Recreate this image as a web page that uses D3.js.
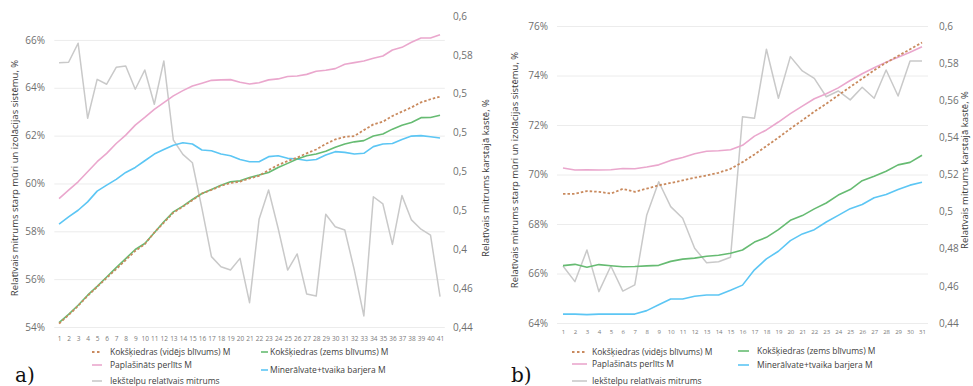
<!DOCTYPE html>
<html>
<head>
<meta charset="utf-8">
<script src="https://cdn.jsdelivr.net/npm/d3@7"></script>
<style>
  body { margin: 0; background: #fff; }
  svg { display: block; font-family: "Open Sans", "DejaVu Sans", sans-serif; }
</style>
</head>
<body>
<svg id="chart" width="973" height="386"></svg>
<script>
// ---- Panel a) : 41 days ----
const daysA = d3.range(1, 42);
const aVidejs = [54.14,54.50,54.88,55.30,55.68,56.05,56.42,56.80,57.18,57.46,57.95,58.36,58.78,59.03,59.30,59.58,59.73,59.90,60.02,60.08,
  60.21,60.32,60.56,60.77,60.94,61.08,61.26,61.42,61.65,61.84,61.95,61.98,62.23,62.47,62.58,62.82,63.00,63.18,63.39,63.52,63.63];
const aZems = [54.18,54.53,54.91,55.33,55.70,56.09,56.48,56.86,57.24,57.49,57.94,58.40,58.81,59.05,59.33,59.58,59.75,59.93,60.07,60.11,
  60.25,60.35,60.46,60.67,60.84,61.02,61.16,61.23,61.35,61.51,61.65,61.74,61.79,61.98,62.07,62.27,62.43,62.55,62.75,62.76,62.85];
const aPerlits = [59.37,59.72,60.07,60.49,60.91,61.26,61.67,62.02,62.44,62.76,63.10,63.38,63.66,63.88,64.07,64.19,64.31,64.33,64.34,64.23,
  64.16,64.21,64.33,64.37,64.47,64.49,64.56,64.69,64.73,64.80,64.98,65.05,65.12,65.23,65.33,65.58,65.69,65.90,66.08,66.08,66.22];
const aMinerals = [58.30,58.60,58.88,59.23,59.68,59.93,60.17,60.46,60.67,60.95,61.23,61.42,61.60,61.70,61.65,61.40,61.37,61.23,61.16,61.00,
  60.91,60.91,61.12,61.16,61.05,61.02,60.96,61.00,61.19,61.33,61.30,61.23,61.26,61.54,61.65,61.67,61.84,61.98,62.00,61.95,61.90];
const aIekstelpu = [0.5760,0.5762,0.5860,0.5474,0.5674,0.5649,0.5736,0.5743,0.5623,0.5722,0.5546,0.5769,0.5362,0.5288,0.5245,0.5010,0.4762,0.4710,0.4693,0.4753,
  0.4525,0.4954,0.5105,0.4908,0.4693,0.4776,0.4570,0.4559,0.4980,0.4916,0.4899,0.4693,0.4457,0.5070,0.5033,0.4825,0.5076,0.4951,0.4903,0.4873,0.4556];
const aLeftTicks = [54, 56, 58, 60, 62, 64, 66];
const aRightTicks = [0.44, 0.46, 0.48, 0.50, 0.52, 0.54, 0.56, 0.58, 0.60];
const aRightTickLabels = ["0,44", "0,46", "0,4", "0,5", "0,5", "0,5", "0,5", "0,58", "0,6"];

// ---- Panel b) : 31 days ----
const daysB = d3.range(1, 32);
const bVidejs = [69.22,69.22,69.33,69.30,69.23,69.42,69.30,69.43,69.56,69.66,69.76,69.87,69.96,70.07,70.23,70.50,
  70.81,71.15,71.49,71.85,72.19,72.54,72.86,73.20,73.54,73.87,74.21,74.52,74.79,75.06,75.33];
const bZems = [66.32,66.37,66.25,66.36,66.31,66.27,66.28,66.31,66.33,66.49,66.58,66.62,66.70,66.74,66.82,66.95,
  67.27,67.46,67.77,68.15,68.34,68.61,68.85,69.17,69.39,69.75,69.93,70.13,70.39,70.49,70.78];
const bPerlits = [70.26,70.18,70.19,70.18,70.19,70.24,70.23,70.30,70.39,70.57,70.69,70.84,70.94,70.96,71.00,71.18,
  71.55,71.80,72.12,72.46,72.76,73.06,73.26,73.50,73.80,74.07,74.31,74.54,74.74,74.94,75.16];
const bMinerals = [64.36,64.36,64.34,64.36,64.36,64.36,64.36,64.50,64.74,64.97,64.97,65.08,65.13,65.13,65.32,65.53,
  66.15,66.59,66.90,67.33,67.60,67.77,68.08,68.35,68.62,68.79,69.06,69.19,69.39,69.57,69.69];
const bIekstelpu = [0.4707,0.4623,0.4793,0.4569,0.4707,0.4572,0.4605,0.4982,0.5161,0.5027,0.4964,0.4803,0.4725,0.4730,0.4754,0.5511,
  0.5503,0.5875,0.5611,0.5835,0.5758,0.5718,0.5619,0.5650,0.5602,0.5670,0.5611,0.5763,0.5623,0.5812,0.5812];
const bLeftTicks = [64, 66, 68, 70, 72, 74, 76];
const bRightTicks = [0.44, 0.46, 0.48, 0.50, 0.52, 0.54, 0.56, 0.58, 0.60];
const bRightTickLabels = ["0,44", "0,46", "0,48", "0,5", "0,52", "0,54", "0,56", "0,58", "0,6"];

const seriesNames = {
  videjs: "Kokšķiedras (vidējs blīvums) M",
  zems: "Kokšķiedras (zems blīvums) M",
  perlits: "Paplašināts perlīts M",
  minerals: "Minerālvate+tvaika barjera M",
  iekstelpu: "Iekštelpu relatīvais mitrums"
};
const leftTitle = "Relatīvais mitrums starp mūri un izolācijas sistēmu, %";
const rightTitle = "Relatīvais mitrums karstajā kastē, %";

const colors = {
  videjs: "#c98a5e",
  zems: "#66bb72",
  perlits: "#eaa7cd",
  minerals: "#5cc6f4",
  iekstelpu: "#c9c9c9"
};

const svg = d3.select("#chart");

function drawPanel(cfg) {
  const g = svg.append("g");
  const x = d3.scalePoint().domain(cfg.days).range([cfg.x0, cfg.x1]).padding(0.5);
  const yL = d3.scaleLinear().domain(cfg.leftDomain).range([cfg.yBottom, cfg.yTop]);
  const yR = d3.scaleLinear().domain([0.44, 0.60]).range([cfg.yBottom, cfg.yTop]);

  // horizontal gridlines on the primary axis ticks
  g.append("g")
    .attr("transform", `translate(${cfg.x0},0)`)
    .call(d3.axisLeft(yL).tickValues(cfg.leftTicks).tickSize(-(cfg.x1 - cfg.x0)).tickFormat(""))
    .call(s => s.select(".domain").remove())
    .call(s => s.selectAll("line").attr("stroke", "#ececec").attr("stroke-width", 1));

  // primary y axis labels
  g.append("g")
    .attr("transform", `translate(${cfg.leftLabelX},0)`)
    .call(d3.axisLeft(yL).tickValues(cfg.leftTicks).tickSize(0).tickPadding(0).tickFormat(d => d + "%"))
    .call(s => s.select(".domain").remove())
    .call(s => s.selectAll("text").attr("fill", "#6f6f6f").style("font-size", "10px")
      .style("font-family", "Open Sans, DejaVu Sans, sans-serif"));

  // secondary y axis labels
  g.append("g")
    .attr("transform", `translate(${cfg.rightLabelX},0)`)
    .call(d3.axisRight(yR).tickValues(cfg.rightTicks).tickSize(0).tickPadding(0)
      .tickFormat((d, i) => cfg.rightTickLabels[i]))
    .call(s => s.select(".domain").remove())
    .call(s => s.selectAll("text").attr("fill", "#6f6f6f").style("font-size", "10px")
      .style("font-family", "Open Sans, DejaVu Sans, sans-serif"));

  // category axis
  g.append("g")
    .attr("transform", `translate(0,${cfg.xLabelY})`)
    .call(d3.axisBottom(x).tickSize(0).tickPadding(0))
    .call(s => s.select(".domain").remove())
    .call(s => s.selectAll("text").attr("fill", "#7a7a7a").style("font-size", cfg.xFont)
      .style("font-family", "Open Sans, DejaVu Sans, sans-serif"));

  const lineL = d3.line().x((d, i) => x(cfg.days[i])).y(d => yL(d));
  const lineR = d3.line().x((d, i) => x(cfg.days[i])).y(d => yR(d));

  const plot = g.append("g").attr("fill", "none").attr("stroke-linejoin", "round");
  plot.append("path").datum(cfg.iekstelpu).attr("d", lineR)
    .attr("stroke", colors.iekstelpu).attr("stroke-width", 1.5);
  plot.append("path").datum(cfg.minerals).attr("d", lineL)
    .attr("stroke", colors.minerals).attr("stroke-width", 1.6);
  plot.append("path").datum(cfg.perlits).attr("d", lineL)
    .attr("stroke", colors.perlits).attr("stroke-width", 1.6);
  plot.append("path").datum(cfg.zems).attr("d", lineL)
    .attr("stroke", colors.zems).attr("stroke-width", 1.6);
  plot.append("path").datum(cfg.videjs).attr("d", lineL)
    .attr("stroke", colors.videjs).attr("stroke-width", 1.8).attr("stroke-dasharray", "2.5,2");

  // axis titles
  g.append("text")
    .attr("transform", `translate(${cfg.leftTitleX},${cfg.titleY}) rotate(-90)`)
    .attr("text-anchor", "middle").attr("fill", "#3a3a3a").style("font-size", "9.5px")
    .text(leftTitle);
  g.append("text")
    .attr("transform", `translate(${cfg.rightTitleX},${cfg.titleY}) rotate(-90)`)
    .attr("text-anchor", "middle").attr("fill", "#3a3a3a").style("font-size", "9.5px")
    .text(rightTitle);

  // legend
  const legend = g.append("g").style("font-size", "8.5px").attr("fill", "#404040");
  cfg.legend.forEach(it => {
    legend.append("line")
      .attr("x1", it.x).attr("x2", it.x + it.w).attr("y1", it.y).attr("y2", it.y)
      .attr("stroke", colors[it.key]).attr("stroke-width", it.key === "videjs" ? 1.8 : 1.6)
      .attr("stroke-dasharray", it.key === "videjs" ? "2.5,2.5" : null);
    legend.append("text").attr("x", it.tx).attr("y", it.y + 3).text(seriesNames[it.key]);
  });

  // panel letter
  g.append("text").attr("x", cfg.letterX).attr("y", 382)
    .attr("fill", "#111").style("font-family", "DejaVu Serif, Liberation Serif, serif")
    .style("font-size", "20px").text(cfg.letter);
}

drawPanel({
  days: daysA, x0: 54.3, x1: 444.8, yTop: 16, yBottom: 327,
  leftDomain: [54, 67], leftTicks: aLeftTicks,
  rightTicks: aRightTicks, rightTickLabels: aRightTickLabels,
  leftLabelX: 45, rightLabelX: 453, xLabelY: 336, xFont: "6.5px",
  videjs: aVidejs, zems: aZems, perlits: aPerlits, minerals: aMinerals, iekstelpu: aIekstelpu,
  leftTitleX: 18, rightTitleX: 489, titleY: 178,
  legend: [
    { key: "videjs", x: 92, w: 10, tx: 110, y: 352 },
    { key: "perlits", x: 92, w: 10, tx: 110, y: 365 },
    { key: "iekstelpu", x: 92, w: 10, tx: 110, y: 381 },
    { key: "zems", x: 261, w: 7, tx: 270, y: 352 },
    { key: "minerals", x: 261, w: 7, tx: 270, y: 370 }
  ],
  letter: "a)", letterX: 15
});

drawPanel({
  days: daysB, x0: 557, x1: 928, yTop: 26, yBottom: 323,
  leftDomain: [64, 76], leftTicks: bLeftTicks,
  rightTicks: bRightTicks, rightTickLabels: bRightTickLabels,
  leftLabelX: 548, rightLabelX: 939, xLabelY: 330, xFont: "6px",
  videjs: bVidejs, zems: bZems, perlits: bPerlits, minerals: bMinerals, iekstelpu: bIekstelpu,
  leftTitleX: 518, rightTitleX: 968, titleY: 170,
  legend: [
    { key: "videjs", x: 572, w: 15, tx: 592, y: 352 },
    { key: "perlits", x: 572, w: 15, tx: 592, y: 364 },
    { key: "iekstelpu", x: 572, w: 15, tx: 592, y: 381 },
    { key: "zems", x: 738, w: 11, tx: 757, y: 351 },
    { key: "minerals", x: 738, w: 11, tx: 757, y: 365 }
  ],
  letter: "b)", letterX: 511
});
</script>
</body>
</html>
